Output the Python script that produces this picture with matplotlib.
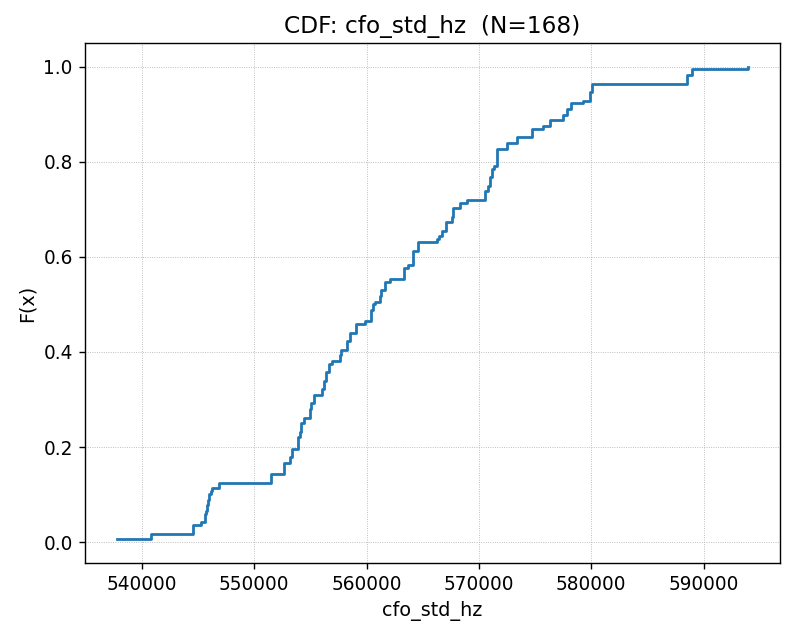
import matplotlib
matplotlib.use('Agg')
import matplotlib.pyplot as plt
import numpy as np

step_values = [537750, 540770, 544530, 545220, 545600, 545710, 545800, 545870, 545930,
               546020, 546110, 546200, 546840, 551500, 552620, 553220, 553370, 553870,
               553930, 554040, 554200, 554460, 554930, 555060, 555350, 556060, 556240,
               556420, 556660, 556920, 557600, 557750, 558260, 558490, 559080, 559880,
               560420, 560570, 560710, 561160, 561280, 561600, 562110, 563290, 563680,
               564120, 564620, 566260, 566490, 566700, 567060, 567590, 567680, 568330,
               568980, 570580, 570840, 571000, 571170, 571350, 571590, 572530, 573420,
               574730, 575730, 576330, 577510, 577870, 578200, 579240, 579880, 580040,
               588480, 588930, 593990]
step_counts = [1, 2, 3, 1, 3, 1, 2, 1, 1,
               2, 1, 1, 2, 3, 4, 2, 3, 2,
               2, 2, 3, 2, 3, 2, 3, 2, 3,
               3, 3, 1, 2, 2, 3, 3, 3, 1,
               4, 2, 1, 2, 2, 3, 1, 4, 1,
               5, 3, 1, 1, 2, 3, 2, 3, 2,
               1, 3, 2, 3, 3, 1, 6, 2, 2,
               3, 1, 2, 2, 2, 2, 1, 3, 3,
               3, 2, 1]

cfo_std_hz = np.sort(np.repeat(step_values, step_counts))
n = len(cfo_std_hz)
cdf = np.arange(1, n + 1) / n

fig = plt.figure(figsize=(793 / 125, 635 / 125), dpi=125)
ax = fig.add_axes([85 / 793, 1 - 563 / 635, (780 - 85) / 793, (563 - 43) / 635])

ax.step(cfo_std_hz, cdf, where='post', color='#1f77b4', linewidth=1.6)
ax.set_title(f'CDF: cfo_std_hz  (N={n})', fontsize=13.4)
ax.set_xlabel('cfo_std_hz', fontsize=11)
ax.set_ylabel('F(x)', fontsize=11)
ax.tick_params(labelsize=10.7)
ax.grid(True, linestyle=':', linewidth=0.5)

plt.savefig('out.png', dpi=125)
plt.close()
